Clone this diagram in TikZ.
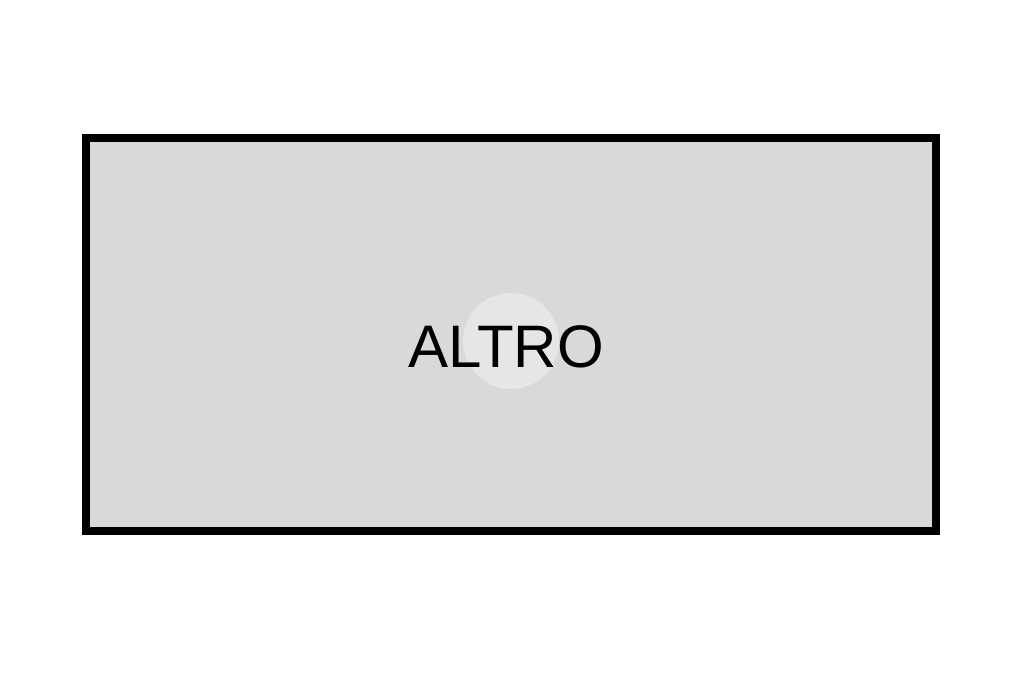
\documentclass[tikz,border=0pt]{standalone}
\usepackage{fontspec}
\setmainfont{Liberation Sans}
\tikzset{
  boxstyle/.style={draw=black, line width=8pt, fill=boxgray},
  spot/.style={fill=spotgray, draw=none},
}
\definecolor{boxgray}{HTML}{D9D9D9}
\definecolor{spotgray}{HTML}{E6E6E6}
\begin{document}
\begin{tikzpicture}[x=1pt,y=-1pt]
\useasboundingbox (0,0) rectangle (1024,682);
\draw[boxstyle] (86,138) rectangle (936,531);
\fill[spot] (511,341) circle (48);
\node[font=\fontsize{60}{72}\selectfont, inner sep=0pt] (label) at (506,347) {ALTRO};
\end{tikzpicture}
\end{document}
